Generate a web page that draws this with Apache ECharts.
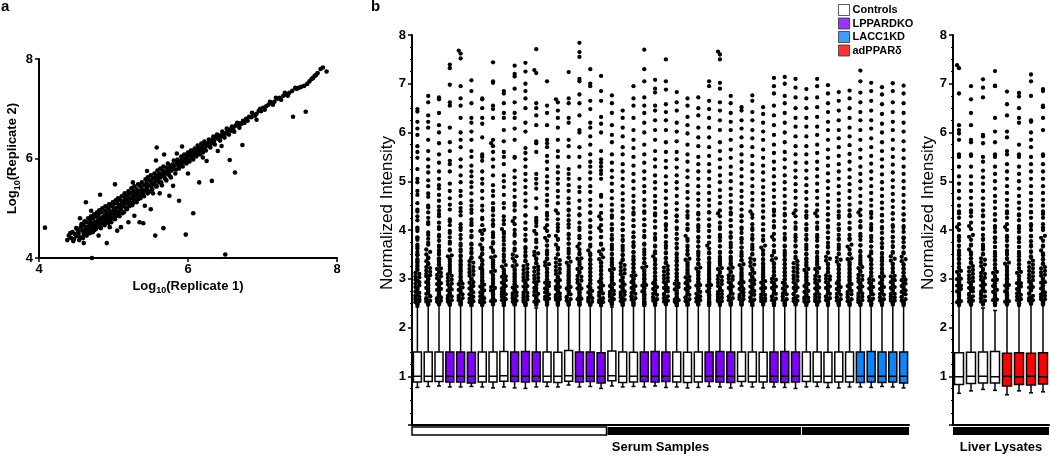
<!DOCTYPE html>
<html>
<head>
<meta charset="utf-8">
<script src="https://cdn.jsdelivr.net/npm/echarts@6/dist/echarts.min.js"></script>
<style>
html,body{margin:0;padding:0;background:#fff;}
#main{width:1050px;height:459px;}
</style>
</head>
<body>
<div id="main"></div>
<script>
// panel a: replicate 1 vs replicate 2 (log10)
var replicatePoints = [
[4.38,4.36],[4.40,4.45],[4.43,4.40],[4.45,4.52],[4.47,4.38],[4.48,4.48],[4.50,4.44],[4.52,4.56],[4.53,4.50],[4.55,4.42],[4.56,4.62],[4.58,4.55],[4.60,4.48],[4.60,4.66],[4.62,4.58],[4.63,4.52],[4.64,4.72],[4.65,4.62],[4.67,4.55],[4.68,4.68],[4.69,4.76],[4.70,4.60],[4.71,4.70],[4.72,4.64],[4.73,4.80],[4.74,4.56],[4.75,4.72],[4.76,4.66],[4.77,4.84],[4.78,4.62],[4.79,4.76],[4.80,4.70],[4.80,4.88],
[4.81,4.80],[4.82,4.66],[4.83,4.74],[4.84,4.92],[4.85,4.82],[4.86,4.70],[4.87,4.78],[4.88,4.86],[4.89,4.95],[4.90,4.74],[4.90,4.84],[4.91,4.90],[4.92,4.80],[4.93,5.00],[4.94,4.86],[4.95,4.76],[4.95,4.94],[4.96,4.84],[4.97,5.04],[4.98,4.90],[4.99,4.80],[5.00,4.96],[5.00,5.08],[5.01,4.88],[5.02,5.00],[5.03,4.84],[5.04,4.94],[5.05,5.10],[5.06,5.02],[5.07,4.92],[5.08,5.06],[5.09,5.16],[5.10,4.98],[5.11,5.08],[5.12,4.90],[5.13,5.14],[5.14,5.04],[5.15,5.22],[5.16,5.10],[5.17,5.00],[5.18,5.16],[5.19,5.26],[5.20,5.08],[5.21,5.18],[5.22,5.12],[5.23,5.30],[5.24,5.20],[5.25,5.06],[5.26,5.24],[5.27,5.34],[5.28,5.16],[5.29,5.28],[5.30,5.22],
[5.31,5.38],[5.32,5.30],[5.33,5.18],[5.35,5.34],[5.36,5.44],[5.37,5.26],[5.38,5.38],[5.40,5.30],[5.41,5.46],[5.42,5.36],[5.44,5.50],[5.45,5.42],[5.46,5.30],[5.47,5.46],[5.48,5.56],[5.50,5.44],[5.51,5.52],[5.52,5.38],[5.53,5.60],[5.55,5.50],[5.56,5.62],[5.57,5.56],[5.58,5.44],[5.59,5.66],[5.60,5.58],[5.62,5.70],[5.63,5.62],[5.64,5.52],[5.65,5.68],[5.66,5.76],[5.68,5.66],[5.69,5.60],[5.70,5.74],[5.71,5.82],[5.72,5.70],[5.74,5.78],[5.75,5.66],[5.76,5.84],[5.78,5.76],[5.79,5.88],
[5.80,5.80],[5.82,5.86],[5.84,5.78],[5.85,5.92],[5.87,5.86],[5.89,5.94],[5.90,5.88],[5.92,5.98],[5.94,5.92],[5.96,6.00],[5.97,5.95],[5.99,6.06],[6.01,6.00],[6.03,6.08],[6.05,6.04],[6.06,6.12],[6.08,6.08],[6.10,6.14],[6.12,6.10],[6.14,6.20],[6.15,6.15],[6.17,6.22],[6.19,6.18],[6.21,6.26],[6.23,6.22],[6.25,6.30],[6.27,6.26],[6.29,6.34],[6.31,6.30],[6.33,6.38],[6.35,6.35],[6.37,6.42],[6.40,6.40],[6.42,6.46],[6.45,6.44],[6.47,6.50],[6.50,6.50],
[6.53,6.55],[6.56,6.58],[6.58,6.56],[6.61,6.62],[6.64,6.66],[6.67,6.68],[6.70,6.71],[6.72,6.70],[6.74,6.76],[6.78,6.80],[6.82,6.84],[6.85,6.83],[6.88,6.88],[6.92,6.90],[6.95,6.96],[6.98,6.95],[7.01,7.02],[7.05,7.05],[7.08,7.08],[7.12,7.12],[7.16,7.14],[7.20,7.20],[7.23,7.22],[7.25,7.18],[7.28,7.26],[7.32,7.28],[7.36,7.32],[7.40,7.36],[7.46,7.40],[7.52,7.44],[7.56,7.46],[7.60,7.50],[7.63,7.55],[7.66,7.60],[7.70,7.66],[7.74,7.72],[7.78,7.80],[7.81,7.83],[7.86,7.75],
[4.42,4.50],[4.46,4.34],[4.50,4.60],[4.54,4.36],[4.57,4.68],[4.59,4.40],[4.61,4.74],[4.64,4.45],[4.66,4.80],[4.68,4.50],[4.70,4.84],[4.72,4.52],[4.74,4.88],[4.76,4.58],[4.78,4.92],[4.79,4.68],[4.81,4.96],[4.83,4.60],[4.85,5.00],[4.86,4.76],[4.88,4.66],[4.89,5.04],[4.91,4.78],[4.93,4.70],[4.94,5.08],[4.96,4.90],[4.97,4.72],[4.99,5.12],
[5.01,4.98],[5.02,4.78],[5.03,5.16],[5.05,4.88],[5.06,5.20],[5.08,4.84],[5.09,5.00],[5.11,5.24],[5.12,5.12],[5.14,4.92],[5.15,5.30],[5.17,5.18],[5.18,4.98],[5.20,5.34],[5.21,5.04],[5.23,5.20],[5.24,5.40],[5.26,5.10],[5.28,5.44],[5.30,5.30],[5.31,5.12],[5.33,5.48],[5.34,5.26],[5.36,5.20],[5.38,5.52],[5.39,5.32],[5.41,5.24],[5.43,5.58],[5.45,5.36],[5.46,5.62],[5.48,5.34],[5.50,5.66],[5.52,5.48],[5.53,5.30],[5.55,5.70],[5.57,5.44],[5.59,5.76],[5.61,5.52],[5.63,5.80],[5.65,5.46],[5.67,5.84],[5.69,5.70],[5.71,5.56],[5.73,5.90],[5.75,5.74],[5.77,5.62],
[5.81,5.96],[5.83,5.70],[5.86,5.98],[5.88,5.80],[5.91,6.04],[5.93,5.84],[5.95,6.08],[5.98,5.90],[6.00,6.12],[6.02,5.94],[6.04,6.16],[6.07,5.98],[6.09,6.20],[6.11,6.04],[6.13,6.26],[6.16,6.08],[6.18,6.30],[6.20,6.12],[6.22,6.34],[6.24,6.16],[6.28,6.38],[6.30,6.22],[6.34,6.44],[6.36,6.28],[6.39,6.48],[6.43,6.36],[6.46,6.54],[6.49,6.42],[6.52,6.60],[6.55,6.48],[6.59,6.64],[6.62,6.54],[6.66,6.72],[6.69,6.62],[6.76,6.72],[6.80,6.76],[6.86,6.92],[6.90,6.86],[6.97,7.00],[7.03,6.98],[7.10,7.14],[7.14,7.08],[7.18,7.22],[7.30,7.32],[7.34,7.26],[7.44,7.42],[7.49,7.42],[7.68,7.62],[7.72,7.68],
[4.08,4.61],[4.71,4.00],[6.50,4.07],[4.91,4.30],[4.63,5.12],[4.82,5.27],[5.02,5.48],[5.26,5.52],[5.58,6.22],[5.57,5.96],[5.45,5.75],[5.68,6.08],[5.85,6.10],[5.92,6.24],[5.67,4.60],[5.56,4.45],[5.97,4.47],[6.07,4.90],[6.15,5.52],[6.32,5.55],[6.63,5.72],[6.56,5.97],[6.73,6.27],[6.92,6.78],[7.41,6.84],[7.58,6.94],[5.35,4.72],[5.50,4.98],[5.42,5.05],[5.75,5.25],[5.88,5.15],[5.62,5.30],[5.20,4.72],[5.05,4.55],[4.95,4.62],[5.28,4.85],[5.80,5.45],[6.00,5.70],[6.25,5.95],[6.40,6.15],[4.55,4.80],[4.70,4.95],[4.60,4.30],[4.80,4.45],[5.10,4.62],[5.40,4.70],[6.20,6.02],[6.45,6.25]
];

// panel b: 46 serum samples, group 0 controls, 1 LPPARDKO, 2 LACC1KD
var serumGroup = [0,0,0,1,1,1,0,0,0,1,1,1,0,0,0,1,1,1,0,0,0,1,1,1,0,0,0,1,1,1,0,0,0,1,1,1,0,0,0,0,0,2,2,2,2,2];
var serumLow  = [0.77,0.79,0.80,0.78,0.78,0.79,0.78,0.76,0.78,0.76,0.75,0.78,0.79,0.78,0.82,0.78,0.79,0.75,0.80,0.78,0.79,0.78,0.80,0.77,0.78,0.76,0.77,0.79,0.78,0.76,0.80,0.78,0.76,0.78,0.77,0.75,0.78,0.79,0.77,0.76,0.78,0.78,0.77,0.79,0.78,0.76];
var serumQ1   = [0.88,0.89,0.89,0.88,0.88,0.86,0.88,0.88,0.90,0.89,0.88,0.89,0.88,0.87,0.90,0.88,0.89,0.86,0.91,0.87,0.88,0.89,0.88,0.89,0.88,0.87,0.88,0.89,0.88,0.87,0.89,0.88,0.88,0.88,0.87,0.88,0.89,0.88,0.87,0.88,0.88,0.87,0.88,0.87,0.88,0.86];
var serumMed  = [1.00,1.00,1.00,1.00,1.00,1.00,1.00,1.00,1.01,1.00,1.00,1.00,1.00,1.00,1.01,1.00,1.00,1.00,1.01,1.00,1.00,1.00,1.00,1.00,1.00,1.00,1.00,1.00,1.00,1.00,1.00,1.00,1.00,1.00,1.00,1.00,1.00,1.00,1.00,1.00,1.00,1.00,1.00,1.00,1.00,1.00];
var serumQ3   = [1.50,1.50,1.50,1.50,1.50,1.49,1.50,1.50,1.51,1.50,1.51,1.50,1.50,1.49,1.53,1.50,1.50,1.48,1.52,1.50,1.49,1.50,1.51,1.50,1.50,1.49,1.50,1.50,1.51,1.50,1.50,1.50,1.49,1.50,1.51,1.50,1.50,1.50,1.49,1.50,1.50,1.50,1.51,1.50,1.50,1.50];
var serumHigh = [2.42,2.45,2.46,2.46,2.45,2.44,2.45,2.46,2.45,2.45,2.44,2.40,2.45,2.46,2.46,2.45,2.45,2.44,2.42,2.45,2.45,2.44,2.45,2.46,2.44,2.45,2.45,2.44,2.45,2.46,2.45,2.44,2.45,2.44,2.45,2.45,2.44,2.45,2.45,2.44,2.45,2.45,2.44,2.45,2.45,2.44];
var serumOutliers = [
[6.48,6.43,6.22,6.08,5.95,5.72,5.6,5.48,5.25,5.05,4.98,4.8,4.72,4.55,4.42,4.38,4.2,4.05,3.98,3.85,3.8,3.7,3.62,3.55,3.48,3.4,3.33,3.28,3.2,3.12,3.05,2.98,2.93,2.86,2.8,2.74,2.69,2.63,2.58,2.52,2.48],
[6.75,6.62,6.35,6.22,6.1,5.85,5.62,5.45,5.3,5.18,5.02,4.9,4.75,4.68,4.5,4.36,4.25,4.12,3.95,3.82,3.74,3.6,3.5,3.44,3.36,3.3,3.24,3.17,3.1,3.05,2.99,2.92,2.87,2.81,2.75,2.7,2.64,2.58,2.53,2.47],
[6.72,6.68,6.4,6.15,6.0,5.78,5.55,5.38,5.2,5.05,4.92,4.85,4.72,4.6,4.48,4.4,4.28,4.15,4.02,3.9,3.78,3.65,3.58,3.5,3.42,3.35,3.28,3.21,3.14,3.08,3.01,2.95,2.89,2.83,2.77,2.71,2.66,2.6,2.55,2.49],
[7.39,7.32,6.98,6.62,6.55,6.1,5.8,5.62,5.42,5.35,5.2,4.95,4.8,4.65,4.52,4.42,4.22,4.1,3.98,3.85,3.72,3.6,3.48,3.4,3.3,3.2,3.12,3.06,2.98,2.9,2.84,2.78,2.7,2.64,2.57,2.5,2.47],
[7.68,7.62,7.52,6.95,6.7,6.55,6.3,6.0,5.85,5.7,5.45,5.3,5.12,4.98,4.8,4.7,4.55,4.45,4.3,4.12,4.0,3.9,3.72,3.6,3.48,3.38,3.3,3.22,3.15,3.05,2.97,2.9,2.82,2.75,2.68,2.6,2.55,2.5,2.47],
[7.07,6.85,6.6,6.3,6.2,6.02,5.85,5.62,5.5,5.32,5.2,5.1,4.98,4.88,4.75,4.6,4.5,4.35,4.22,4.1,3.98,3.85,3.72,3.62,3.52,3.44,3.36,3.28,3.2,3.13,3.06,2.99,2.92,2.85,2.78,2.72,2.65,2.58,2.52,2.46],
[6.7,6.68,6.5,6.3,6.18,5.9,5.55,5.5,5.42,5.2,5.05,4.95,4.8,4.65,4.5,4.4,4.25,4.1,4.0,3.92,3.82,3.7,3.6,3.52,3.44,3.37,3.3,3.22,3.16,3.09,3.02,2.95,2.88,2.82,2.76,2.7,2.64,2.58,2.52,2.46],
[7.44,7.05,7.02,6.55,6.48,6.3,5.85,5.78,5.72,5.6,5.45,5.3,5.12,4.92,4.8,4.7,4.55,4.45,4.3,4.2,4.08,3.95,3.85,3.75,3.64,3.55,3.46,3.38,3.3,3.22,3.14,3.06,2.98,2.9,2.83,2.76,2.68,2.61,2.54,2.48],
[6.85,6.8,6.6,6.4,6.3,6.05,5.82,5.6,5.5,5.35,5.12,5.0,4.88,4.72,4.55,4.45,4.28,4.12,4.02,3.92,3.85,3.7,3.58,3.45,3.35,3.25,3.15,3.05,2.98,2.92,2.86,2.8,2.74,2.68,2.62,2.56,2.5,2.46],
[7.37,7.2,7.15,6.9,6.62,6.4,6.3,6.08,5.85,5.5,5.48,5.22,5.08,4.95,4.82,4.68,4.55,4.4,4.25,4.12,4.0,3.88,3.75,3.62,3.5,3.42,3.35,3.28,3.2,3.12,3.05,2.98,2.9,2.84,2.78,2.72,2.65,2.59,2.53,2.47],
[7.43,7.25,7.0,6.85,6.7,6.5,6.2,6.02,5.68,5.58,5.45,5.3,5.15,5.02,4.88,4.75,4.6,4.48,4.3,4.15,4.02,3.9,3.78,3.65,3.55,3.45,3.37,3.29,3.21,3.13,3.06,2.99,2.92,2.85,2.78,2.71,2.64,2.57,2.5,2.46],
[7.71,7.28,7.22,6.6,6.5,6.35,6.15,5.82,5.78,5.6,5.15,5.05,4.95,4.85,4.65,4.45,4.2,4.15,4.08,3.92,3.75,3.55,3.48,3.4,3.32,3.25,3.18,3.1,3.02,2.95,2.88,2.8,2.73,2.66,2.6,2.53,2.47],
[7.05,6.55,6.4,6.15,5.85,5.78,5.7,5.52,5.4,5.25,5.1,4.98,4.85,4.72,4.6,4.5,4.35,4.22,4.1,3.98,3.88,3.78,3.68,3.58,3.5,3.42,3.34,3.27,3.2,3.13,3.06,2.99,2.92,2.85,2.78,2.72,2.65,2.58,2.52,2.47],
[6.68,6.62,6.45,6.3,6.1,5.85,5.62,5.5,5.3,5.18,5.05,4.95,4.8,4.68,4.55,4.4,4.22,4.12,3.98,3.88,3.8,3.7,3.6,3.5,3.42,3.33,3.25,3.17,3.1,3.03,2.96,2.9,2.83,2.76,2.7,2.63,2.57,2.51,2.46],
[7.24,6.7,6.6,6.3,6.2,5.85,5.72,5.5,5.25,5.15,5.05,4.92,4.8,4.65,4.55,4.42,4.3,4.2,4.05,3.92,3.82,3.72,3.62,3.52,3.43,3.35,3.27,3.19,3.11,3.04,2.97,2.9,2.83,2.76,2.69,2.62,2.55,2.49],
[7.84,7.65,7.55,7.1,7.05,6.78,6.6,6.35,6.05,6.0,5.7,5.5,5.3,5.05,4.88,4.78,4.6,4.45,4.3,4.15,4.0,3.88,3.72,3.6,3.5,3.42,3.35,3.28,3.2,3.12,3.04,2.96,2.88,2.8,2.72,2.65,2.58,2.52,2.47],
[7.3,7.0,6.95,6.65,6.48,6.2,6.1,5.92,5.75,5.55,5.4,5.3,5.18,5.05,4.9,4.78,4.62,4.5,4.35,4.2,4.08,3.95,3.82,3.7,3.58,3.48,3.38,3.3,3.22,3.14,3.06,2.98,2.9,2.82,2.75,2.68,2.6,2.53,2.47],
[7.16,6.85,6.65,6.32,6.18,6.0,5.62,5.45,5.38,5.3,5.22,5.15,5.05,4.72,4.68,4.5,4.35,4.22,4.1,3.98,3.85,3.72,3.6,3.5,3.4,3.32,3.24,3.16,3.08,3.0,2.93,2.86,2.79,2.72,2.65,2.58,2.52,2.46],
[6.76,6.6,6.4,6.15,5.95,5.8,5.55,5.38,5.22,5.08,4.95,4.8,4.65,4.52,4.4,4.25,4.12,4.0,3.9,3.8,3.7,3.6,3.5,3.42,3.34,3.26,3.18,3.1,3.03,2.96,2.89,2.82,2.75,2.68,2.61,2.55,2.49],
[6.45,6.3,6.1,5.92,5.7,5.55,5.35,5.2,5.05,4.9,4.75,4.62,4.5,4.38,4.25,4.12,4.0,3.88,3.78,3.68,3.58,3.48,3.4,3.32,3.24,3.16,3.09,3.02,2.95,2.88,2.81,2.74,2.67,2.6,2.54,2.48],
[6.95,6.7,6.55,6.3,6.05,5.85,5.68,5.5,5.32,5.15,5.0,4.85,4.7,4.58,4.45,4.32,4.2,4.08,3.95,3.85,3.75,3.65,3.55,3.46,3.38,3.3,3.22,3.14,3.06,2.99,2.92,2.85,2.78,2.71,2.64,2.57,2.51,2.46],
[7.7,7.3,7.05,6.72,6.55,6.4,6.2,6.0,5.75,5.55,5.38,5.2,5.05,4.9,4.78,4.62,4.5,4.35,4.22,4.1,3.98,3.85,3.72,3.6,3.5,3.41,3.33,3.25,3.17,3.09,3.01,2.94,2.87,2.8,2.73,2.66,2.59,2.52,2.47],
[7.08,6.9,6.82,6.55,6.45,6.25,6.05,5.85,5.62,5.45,5.3,5.12,4.98,4.85,4.7,4.58,4.45,4.3,4.18,4.05,3.92,3.8,3.68,3.56,3.46,3.37,3.29,3.21,3.13,3.05,2.97,2.9,2.83,2.76,2.69,2.62,2.55,2.49],
[7.5,7.05,6.88,6.58,6.42,6.25,6.05,5.8,5.6,5.42,5.28,5.1,4.95,4.8,4.65,4.52,4.38,4.25,4.12,4.0,3.88,3.75,3.63,3.52,3.43,3.34,3.26,3.18,3.1,3.02,2.95,2.88,2.81,2.74,2.67,2.6,2.53,2.47],
[6.83,6.62,6.45,6.2,6.02,5.82,5.6,5.45,5.28,5.12,4.98,4.85,4.7,4.55,4.42,4.3,4.18,4.05,3.92,3.82,3.72,3.62,3.52,3.43,3.35,3.27,3.19,3.11,3.04,2.97,2.9,2.83,2.76,2.69,2.62,2.56,2.5,2.46],
[6.7,6.55,6.32,6.15,5.98,5.75,5.55,5.4,5.22,5.08,4.92,4.78,4.65,4.5,4.38,4.25,4.12,4.0,3.88,3.78,3.68,3.58,3.49,3.41,3.33,3.25,3.17,3.1,3.03,2.96,2.89,2.82,2.75,2.68,2.61,2.54,2.48],
[6.72,6.5,6.35,6.1,5.9,5.72,5.5,5.35,5.2,5.05,4.9,4.75,4.62,4.5,4.35,4.22,4.1,3.98,3.86,3.76,3.66,3.56,3.47,3.39,3.31,3.23,3.15,3.08,3.01,2.94,2.87,2.8,2.73,2.66,2.59,2.53,2.47],
[7.05,6.95,6.65,6.48,6.3,6.1,5.9,5.7,5.52,5.35,5.2,5.05,4.9,4.76,4.62,4.5,4.36,4.22,4.1,3.98,3.86,3.74,3.62,3.52,3.43,3.34,3.26,3.18,3.1,3.02,2.94,2.87,2.8,2.73,2.66,2.59,2.52,2.47],
[7.66,7.6,7.5,7.02,6.9,6.62,6.45,6.25,6.05,5.8,5.62,5.45,5.28,5.12,4.98,4.82,4.68,4.55,4.4,4.28,4.15,4.02,3.9,3.78,3.66,3.55,3.45,3.36,3.28,3.2,3.12,3.04,2.96,2.89,2.82,2.75,2.68,2.61,2.54,2.48],
[6.75,6.6,6.4,6.22,6.05,5.85,5.65,5.48,5.3,5.15,5.0,4.85,4.72,4.58,4.45,4.32,4.2,4.08,3.95,3.84,3.74,3.64,3.54,3.45,3.37,3.29,3.21,3.13,3.05,2.98,2.91,2.84,2.77,2.7,2.63,2.56,2.5,2.46],
[6.52,6.45,6.25,6.08,5.9,5.72,5.55,5.4,5.25,5.1,4.95,4.8,4.68,4.55,4.42,4.3,4.18,4.05,3.94,3.84,3.74,3.64,3.55,3.46,3.38,3.3,3.22,3.14,3.07,3.0,2.93,2.86,2.79,2.72,2.65,2.58,2.52,2.47],
[6.76,6.65,6.42,6.25,6.05,5.88,5.7,5.52,5.35,5.2,5.05,4.9,4.76,4.62,4.5,4.38,4.25,4.12,4.0,3.9,3.8,3.7,3.6,3.5,3.42,3.34,3.26,3.18,3.1,3.03,2.96,2.89,2.82,2.75,2.68,2.61,2.54,2.48],
[6.52,6.38,6.2,6.02,5.85,5.65,5.48,5.32,5.18,5.02,4.88,4.75,4.62,4.5,4.38,4.25,4.12,4.0,3.88,3.78,3.68,3.58,3.49,3.4,3.32,3.24,3.16,3.09,3.02,2.95,2.88,2.81,2.74,2.67,2.6,2.54,2.48],
[7.12,6.95,6.8,6.55,6.35,6.15,5.95,5.75,5.58,5.4,5.25,5.1,4.95,4.82,4.68,4.55,4.42,4.3,4.18,4.05,3.92,3.8,3.68,3.57,3.47,3.38,3.3,3.22,3.14,3.06,2.98,2.91,2.84,2.77,2.7,2.63,2.56,2.5,2.46],
[7.14,7.0,6.75,6.6,6.4,6.2,6.0,5.8,5.6,5.45,5.28,5.12,4.98,4.84,4.7,4.56,4.44,4.3,4.18,4.05,3.92,3.8,3.68,3.57,3.47,3.38,3.3,3.22,3.14,3.06,2.98,2.91,2.84,2.77,2.7,2.63,2.56,2.5,2.46],
[7.1,6.92,6.72,6.5,6.3,6.12,5.92,5.72,5.55,5.38,5.22,5.08,4.94,4.8,4.66,4.52,4.4,4.28,4.15,4.02,3.9,3.78,3.66,3.55,3.45,3.36,3.28,3.2,3.12,3.04,2.96,2.89,2.82,2.75,2.68,2.61,2.54,2.48],
[6.89,6.7,6.5,6.3,6.12,5.92,5.72,5.55,5.38,5.22,5.06,4.92,4.78,4.64,4.5,4.38,4.25,4.12,4.0,3.9,3.8,3.7,3.6,3.5,3.42,3.34,3.26,3.18,3.1,3.03,2.96,2.89,2.82,2.75,2.68,2.61,2.54,2.48],
[7.1,6.95,6.72,6.52,6.32,6.12,5.95,5.75,5.58,5.4,5.25,5.1,4.95,4.8,4.66,4.52,4.4,4.28,4.15,4.02,3.9,3.78,3.66,3.55,3.45,3.36,3.28,3.2,3.12,3.04,2.96,2.89,2.82,2.75,2.68,2.61,2.54,2.48],
[6.97,6.8,6.6,6.42,6.22,6.05,5.85,5.65,5.48,5.32,5.16,5.0,4.86,4.72,4.58,4.45,4.32,4.2,4.08,3.95,3.84,3.74,3.64,3.54,3.45,3.37,3.29,3.21,3.13,3.05,2.98,2.91,2.84,2.77,2.7,2.63,2.56,2.5,2.46],
[6.83,6.65,6.45,6.25,6.05,5.88,5.7,5.52,5.35,5.2,5.05,4.9,4.75,4.62,4.5,4.38,4.25,4.12,4.0,3.9,3.8,3.7,3.6,3.51,3.43,3.35,3.27,3.19,3.11,3.04,2.97,2.9,2.83,2.76,2.69,2.62,2.55,2.49],
[6.86,6.7,6.5,6.3,6.1,5.92,5.74,5.56,5.4,5.24,5.08,4.94,4.8,4.66,4.52,4.4,4.28,4.15,4.02,3.9,3.8,3.7,3.6,3.5,3.42,3.34,3.26,3.18,3.1,3.03,2.96,2.89,2.82,2.75,2.68,2.61,2.54,2.48],
[7.27,7.05,6.82,6.62,6.42,6.25,6.05,5.85,5.65,5.48,5.3,5.15,5.0,4.85,4.7,4.56,4.42,4.3,4.18,4.05,3.92,3.8,3.68,3.57,3.47,3.38,3.3,3.22,3.14,3.06,2.98,2.91,2.84,2.77,2.7,2.63,2.56,2.5,2.46],
[7.02,6.85,6.65,6.45,6.25,6.08,5.88,5.7,5.52,5.36,5.2,5.05,4.9,4.76,4.62,4.5,4.37,4.25,4.12,4.0,3.88,3.77,3.66,3.56,3.46,3.37,3.29,3.21,3.13,3.05,2.97,2.9,2.83,2.76,2.69,2.62,2.55,2.49],
[6.93,6.78,6.58,6.38,6.18,6.0,5.8,5.62,5.45,5.3,5.14,4.98,4.84,4.7,4.56,4.44,4.31,4.18,4.06,3.94,3.83,3.73,3.63,3.53,3.44,3.36,3.28,3.2,3.12,3.04,2.97,2.9,2.83,2.76,2.69,2.62,2.55,2.49],
[7.01,6.85,6.62,6.42,6.22,6.05,5.85,5.66,5.5,5.34,5.18,5.02,4.88,4.74,4.6,4.47,4.34,4.22,4.1,3.97,3.86,3.76,3.65,3.55,3.46,3.37,3.29,3.21,3.13,3.05,2.97,2.9,2.83,2.76,2.69,2.62,2.55,2.49],
[6.96,6.8,6.6,6.4,6.2,6.02,5.82,5.64,5.47,5.3,5.15,5.0,4.86,4.72,4.58,4.45,4.32,4.2,4.08,3.96,3.85,3.75,3.64,3.54,3.45,3.36,3.28,3.2,3.12,3.04,2.97,2.9,2.83,2.76,2.69,2.62,2.55,2.49]
];
// crowded lower band of each serum column (values just above the whisker)
var serumDense = [
[2.46,2.5,2.54,2.57,2.61,2.66,2.71,2.77,2.83,2.9,2.96,3.03,3.1,3.18,3.25,3.36,3.5,3.66,3.84,4.02,4.28],
[2.48,2.51,2.55,2.6,2.64,2.69,2.75,2.8,2.87,2.93,3.0,3.07,3.14,3.22,3.32,3.42,3.55,3.7,3.9,4.16,4.46],
[2.47,2.5,2.53,2.58,2.62,2.68,2.73,2.79,2.85,2.91,2.98,3.05,3.12,3.2,3.3,3.4,3.53,3.68,3.86,4.06,4.33],
[2.46,2.49,2.53,2.56,2.6,2.65,2.7,2.76,2.82,2.88,2.95,3.02,3.09,3.16,3.25,3.35,3.46,3.58,3.76,3.94,4.18],
[2.48,2.52,2.56,2.61,2.65,2.71,2.77,2.83,2.89,2.95,3.02,3.1,3.18,3.26,3.35,3.45,3.56,3.68,3.82,4.05,4.38],
[2.47,2.5,2.54,2.59,2.63,2.68,2.74,2.8,2.86,2.93,3.0,3.08,3.16,3.24,3.33,3.42,3.55,3.7,3.88,4.15,4.42],
[2.46,2.49,2.52,2.56,2.6,2.66,2.72,2.78,2.84,2.9,2.97,3.04,3.12,3.2,3.28,3.38,3.5,3.64,3.8,3.98,4.22],
[2.47,2.51,2.55,2.6,2.65,2.7,2.75,2.81,2.87,2.94,3.01,3.08,3.16,3.25,3.34,3.44,3.58,3.72,3.9,4.12,4.4],
[2.46,2.5,2.54,2.58,2.63,2.68,2.73,2.79,2.85,2.91,2.97,3.04,3.11,3.19,3.28,3.38,3.5,3.62,3.78,3.96,4.2],
[2.48,2.51,2.55,2.6,2.65,2.7,2.76,2.82,2.88,2.95,3.02,3.09,3.17,3.26,3.36,3.46,3.58,3.72,3.92,4.18,4.5],
[2.47,2.5,2.53,2.57,2.62,2.67,2.72,2.78,2.84,2.9,2.96,3.03,3.1,3.18,3.26,3.36,3.48,3.62,3.8,4.02,4.3],
[2.46,2.5,2.54,2.59,2.64,2.69,2.75,2.81,2.87,2.93,3.0,3.07,3.15,3.23,3.32,3.42,3.52,3.64,3.8,3.98,4.25],
[2.48,2.51,2.55,2.59,2.63,2.68,2.74,2.8,2.86,2.92,2.99,3.06,3.13,3.21,3.3,3.4,3.54,3.68,3.84,4.04,4.3],
[2.47,2.5,2.54,2.58,2.62,2.67,2.73,2.79,2.84,2.9,2.97,3.04,3.12,3.2,3.29,3.38,3.5,3.64,3.82,4.05,4.34],
[2.46,2.49,2.53,2.58,2.63,2.68,2.74,2.8,2.86,2.93,3.0,3.07,3.15,3.24,3.33,3.44,3.57,3.72,3.9,4.12,4.4],
[2.47,2.51,2.55,2.59,2.64,2.69,2.74,2.8,2.86,2.92,2.99,3.06,3.14,3.22,3.31,3.41,3.53,3.66,3.83,4.05,4.32],
[2.46,2.5,2.53,2.57,2.61,2.66,2.72,2.78,2.84,2.9,2.97,3.05,3.13,3.21,3.3,3.4,3.52,3.66,3.84,4.06,4.36],
[2.48,2.52,2.56,2.6,2.65,2.7,2.76,2.82,2.88,2.94,3.01,3.09,3.17,3.25,3.34,3.44,3.56,3.7,3.86,4.04,4.28],
[2.47,2.5,2.54,2.58,2.63,2.68,2.73,2.79,2.85,2.91,2.98,3.05,3.12,3.2,3.29,3.39,3.51,3.65,3.83,4.03,4.3],
[2.46,2.49,2.53,2.57,2.62,2.67,2.72,2.78,2.84,2.9,2.96,3.03,3.11,3.19,3.28,3.38,3.5,3.63,3.8,4.0,4.24],
[2.48,2.51,2.55,2.6,2.64,2.69,2.75,2.81,2.87,2.93,3.0,3.07,3.14,3.22,3.31,3.41,3.54,3.68,3.86,4.08,4.36],
[2.47,2.5,2.54,2.59,2.63,2.68,2.74,2.8,2.86,2.92,2.99,3.06,3.14,3.23,3.32,3.42,3.55,3.7,3.88,4.1,4.38],
[2.46,2.5,2.54,2.58,2.62,2.67,2.73,2.79,2.85,2.91,2.98,3.05,3.13,3.21,3.3,3.4,3.52,3.66,3.84,4.06,4.34],
[2.48,2.51,2.55,2.59,2.64,2.69,2.75,2.81,2.87,2.93,3.0,3.07,3.15,3.23,3.32,3.42,3.54,3.68,3.86,4.08,4.36],
[2.47,2.5,2.53,2.57,2.62,2.67,2.72,2.78,2.84,2.9,2.97,3.04,3.11,3.19,3.28,3.38,3.5,3.64,3.82,4.02,4.28],
[2.46,2.49,2.53,2.58,2.62,2.67,2.73,2.79,2.85,2.91,2.97,3.04,3.12,3.2,3.29,3.39,3.51,3.65,3.82,4.03,4.3],
[2.48,2.52,2.56,2.6,2.64,2.69,2.75,2.8,2.86,2.92,2.99,3.06,3.13,3.21,3.3,3.4,3.52,3.66,3.84,4.05,4.32],
[2.47,2.5,2.54,2.59,2.63,2.68,2.74,2.8,2.86,2.92,2.99,3.06,3.14,3.22,3.31,3.41,3.54,3.68,3.86,4.08,4.36],
[2.46,2.5,2.54,2.58,2.63,2.68,2.73,2.79,2.85,2.92,2.99,3.06,3.14,3.22,3.31,3.41,3.53,3.67,3.85,4.06,4.34],
[2.48,2.51,2.55,2.6,2.64,2.69,2.75,2.81,2.87,2.93,3.0,3.07,3.15,3.23,3.32,3.42,3.55,3.69,3.87,4.08,4.36],
[2.47,2.5,2.54,2.58,2.62,2.67,2.73,2.79,2.85,2.91,2.97,3.04,3.11,3.19,3.28,3.38,3.5,3.64,3.81,4.02,4.28],
[2.46,2.49,2.53,2.57,2.62,2.67,2.72,2.78,2.84,2.9,2.97,3.04,3.12,3.2,3.29,3.39,3.51,3.65,3.83,4.04,4.32],
[2.48,2.51,2.55,2.59,2.63,2.68,2.74,2.8,2.86,2.92,2.98,3.05,3.12,3.2,3.29,3.39,3.51,3.64,3.8,4.0,4.26],
[2.47,2.5,2.54,2.59,2.64,2.69,2.75,2.81,2.87,2.93,3.0,3.07,3.15,3.23,3.32,3.42,3.54,3.68,3.86,4.08,4.38],
[2.46,2.5,2.54,2.58,2.63,2.68,2.74,2.8,2.86,2.92,2.99,3.06,3.13,3.21,3.3,3.4,3.52,3.66,3.84,4.05,4.33],
[2.48,2.51,2.55,2.59,2.64,2.69,2.75,2.81,2.87,2.93,3.0,3.07,3.15,3.23,3.32,3.42,3.54,3.68,3.85,4.06,4.34],
[2.47,2.5,2.53,2.58,2.62,2.67,2.73,2.79,2.85,2.91,2.98,3.05,3.12,3.2,3.29,3.39,3.51,3.65,3.82,4.03,4.3],
[2.46,2.5,2.54,2.58,2.63,2.68,2.74,2.8,2.86,2.92,2.99,3.06,3.14,3.22,3.31,3.41,3.53,3.67,3.85,4.06,4.34],
[2.48,2.51,2.55,2.6,2.64,2.69,2.75,2.81,2.87,2.93,3.0,3.07,3.14,3.22,3.31,3.41,3.53,3.67,3.84,4.05,4.32],
[2.47,2.5,2.54,2.58,2.62,2.67,2.73,2.79,2.85,2.91,2.97,3.04,3.12,3.2,3.29,3.39,3.51,3.65,3.82,4.03,4.3],
[2.46,2.49,2.53,2.58,2.63,2.68,2.73,2.79,2.85,2.91,2.98,3.05,3.13,3.21,3.3,3.4,3.52,3.66,3.83,4.04,4.31],
[2.48,2.52,2.56,2.6,2.65,2.7,2.76,2.82,2.88,2.94,3.01,3.08,3.16,3.24,3.33,3.43,3.55,3.69,3.87,4.08,4.36],
[2.47,2.5,2.54,2.59,2.63,2.68,2.74,2.8,2.86,2.92,2.99,3.06,3.13,3.21,3.3,3.4,3.52,3.66,3.84,4.05,4.33],
[2.46,2.5,2.54,2.58,2.62,2.67,2.73,2.79,2.85,2.91,2.98,3.05,3.12,3.2,3.29,3.39,3.51,3.65,3.82,4.03,4.3],
[2.48,2.51,2.55,2.59,2.64,2.69,2.75,2.81,2.87,2.93,2.99,3.06,3.14,3.22,3.31,3.41,3.53,3.67,3.85,4.06,4.34],
[2.47,2.5,2.54,2.58,2.63,2.68,2.73,2.79,2.85,2.91,2.98,3.05,3.13,3.21,3.3,3.4,3.52,3.66,3.83,4.04,4.32]
];
// sample blocks under the serum axis (first, last box index)
var serumBlocks = [[0,17],[18,35],[36,45]];

// liver lysates, group 0 controls, 3 adPPARd
var liverGroup = [0,0,0,0,3,3,3,3];
var liverLow  = [0.65,0.70,0.73,0.71,0.62,0.70,0.66,0.68];
var liverQ1   = [0.83,0.85,0.86,0.86,0.80,0.83,0.82,0.84];
var liverMed  = [0.99,1.00,1.00,0.99,1.00,0.99,1.00,0.99];
var liverQ3   = [1.48,1.49,1.50,1.51,1.47,1.48,1.47,1.48];
var liverHigh = [2.45,2.45,2.40,2.35,2.50,2.50,2.50,2.50];
var liverOutliers = [
[7.38,7.32,6.8,6.15,6.05,5.98,5.85,5.55,5.5,5.3,5.1,4.95,4.8,4.65,4.5,4.38,4.25,4.12,4.0,3.88,3.78,3.68,3.58,3.48,3.4,3.32,3.24,3.16,3.08,3.0,2.93,2.86,2.79,2.72,2.65,2.58,2.52,2.47],
[6.95,6.68,6.4,6.15,5.85,5.8,5.55,5.52,5.3,5.1,4.95,4.8,4.66,4.52,4.4,4.28,4.15,4.02,3.9,3.8,3.7,3.6,3.5,3.42,3.34,3.26,3.18,3.1,3.02,2.95,2.88,2.81,2.74,2.67,2.6,2.53,2.47],
[7.09,6.92,6.72,5.95,5.92,5.78,5.5,5.4,5.22,5.08,4.95,4.8,4.65,4.52,4.4,4.28,4.15,4.02,3.9,3.8,3.7,3.6,3.5,3.42,3.34,3.26,3.18,3.1,3.02,2.95,2.88,2.81,2.74,2.67,2.6,2.53,2.47],
[7.26,6.96,6.95,6.3,6.02,5.8,5.55,5.5,5.3,5.15,5.0,4.85,4.7,4.58,4.45,4.32,4.2,4.08,3.96,3.85,3.75,3.65,3.55,3.46,3.38,3.3,3.22,3.14,3.06,2.98,2.91,2.84,2.77,2.7,2.63,2.56,2.5,2.46],
[6.84,6.58,6.35,6.02,5.9,5.62,5.55,5.35,5.2,5.05,4.9,4.76,4.62,4.5,4.38,4.25,4.12,4.0,3.88,3.78,3.68,3.58,3.49,3.41,3.33,3.25,3.17,3.09,3.01,2.94,2.87,2.8,2.73,2.66,2.59,2.53,2.47],
[6.81,6.74,6.5,6.3,6.2,5.75,5.55,5.5,5.3,5.15,5.0,4.85,4.7,4.56,4.44,4.32,4.2,4.08,3.96,3.85,3.75,3.65,3.55,3.46,3.38,3.3,3.22,3.14,3.06,2.98,2.91,2.84,2.77,2.7,2.63,2.56,2.5,2.46],
[7.19,7.05,6.75,6.25,6.22,6.0,5.85,5.7,5.5,5.35,5.2,5.05,4.9,4.76,4.62,4.5,4.37,4.25,4.12,4.0,3.88,3.77,3.66,3.56,3.46,3.37,3.29,3.21,3.13,3.05,2.97,2.9,2.83,2.76,2.69,2.62,2.55,2.49],
[6.89,6.85,6.55,6.52,6.3,6.05,5.55,5.52,5.35,5.2,5.05,4.9,4.76,4.62,4.5,4.38,4.25,4.12,4.0,3.88,3.78,3.68,3.58,3.48,3.4,3.32,3.24,3.16,3.08,3.0,2.93,2.86,2.79,2.72,2.65,2.58,2.52,2.47]
];
var liverDense = [
[2.46,2.5,2.54,2.58,2.63,2.68,2.74,2.8,2.86,2.92,2.99,3.06,3.14,3.22,3.31,3.41,3.53,3.67,3.85,4.06,4.34],
[2.47,2.51,2.55,2.59,2.64,2.69,2.75,2.81,2.87,2.93,3.0,3.07,3.15,3.23,3.32,3.42,3.54,3.68,3.86,4.08,4.36],
[2.48,2.51,2.55,2.6,2.64,2.69,2.74,2.8,2.86,2.92,2.98,3.05,3.12,3.2,3.29,3.39,3.51,3.65,3.82,4.03,4.3],
[2.46,2.49,2.53,2.57,2.62,2.67,2.73,2.79,2.85,2.91,2.97,3.04,3.12,3.2,3.29,3.39,3.51,3.65,3.83,4.04,4.32],
[2.47,2.5,2.54,2.59,2.63,2.68,2.74,2.8,2.86,2.92,2.99,3.06,3.14,3.22,3.31,3.41,3.53,3.67,3.85,4.06,4.34],
[2.46,2.5,2.53,2.58,2.62,2.67,2.73,2.79,2.85,2.91,2.98,3.05,3.12,3.2,3.29,3.39,3.51,3.65,3.82,4.03,4.3],
[2.48,2.52,2.56,2.6,2.65,2.7,2.76,2.82,2.88,2.94,3.01,3.08,3.16,3.24,3.33,3.43,3.55,3.69,3.87,4.08,4.36],
[2.47,2.5,2.54,2.58,2.63,2.68,2.74,2.8,2.86,2.92,2.99,3.06,3.13,3.21,3.3,3.4,3.52,3.66,3.84,4.05,4.33]
];
var liverBlocks = [[0,7]];

var groupNames = ['Controls','LPPARDKO','LACC1KD','adPPAR\u03b4'];
var groupColors = ['#ffffff','#8000ff','#0a84ff','#ff0000'];
var yTicks = [0,8,1];

var FONT = 'Liberation Sans, Arial, sans-serif';
var PLOT_H = 395;
var chart = echarts.init(document.getElementById('main'));

function boxRows(low,q1,med,q3,high){
  return low.map(function(v,i){ return [i, low[i], q1[i], med[i], q3[i], high[i]]; });
}
// draws each box: whiskers with short caps, filled box, median line
function boxRenderer(groups, boxW){
  return function(params, api){
    var i = api.value(0);
    var pLow = api.coord([i, api.value(1)]);
    var x = pLow[0];
    var yLow = pLow[1];
    var yQ1 = api.coord([i, api.value(2)])[1];
    var yMed = api.coord([i, api.value(3)])[1];
    var yQ3 = api.coord([i, api.value(4)])[1];
    var yHigh = api.coord([i, api.value(5)])[1];
    var ls = {stroke:'#000', lineWidth:1.5};
    var h = boxW/2;
    return {type:'group', children:[
      {type:'line', shape:{x1:x, y1:yLow, x2:x, y2:yQ1}, style:ls},
      {type:'line', shape:{x1:x, y1:yQ3, x2:x, y2:yHigh}, style:ls},
      {type:'line', shape:{x1:x-2, y1:yLow, x2:x+2, y2:yLow}, style:ls},
      {type:'line', shape:{x1:x-2, y1:yHigh, x2:x+2, y2:yHigh}, style:ls},
      {type:'rect', shape:{x:x-h, y:yQ3, width:boxW, height:yQ1-yQ3},
       style:{fill:groupColors[groups[params.dataIndex]], stroke:'#000', lineWidth:1.5}},
      {type:'line', shape:{x1:x-h, y1:yMed, x2:x+h, y2:yMed}, style:ls}
    ]};
  };
}
// beeswarm-like spread so that crowded outliers sit side by side
function swarm(lists, extra){
  var pxPerUnit = PLOT_H / (yTicks[1] - yTicks[0]);
  var offsets = [0, -1.9, 1.9];
  var pts = [];
  lists.forEach(function(col, i){
    var vals = col.concat(extra[i]).sort(function(a,b){ return a-b; });
    var placed = [];
    vals.forEach(function(v){
      var py = v * pxPerUnit, best = 0, bestHits = 1e9;
      for (var k = 0; k < offsets.length; k++){
        var hits = 0;
        placed.forEach(function(p){
          var dx = p.dx - offsets[k], dy = p.py - py;
          if (dx*dx + dy*dy < 3.4*3.4) hits++;
        });
        if (hits < bestHits){ bestHits = hits; best = offsets[k]; }
        if (hits === 0) break;
      }
      placed.push({py:py, dx:best});
      pts.push({value:[i, v], symbolOffset:[best, 0]});
    });
  });
  return pts;
}
function valueAxis(grid){
  return {
    type:'value', gridIndex:grid, min:yTicks[0], max:yTicks[1], interval:yTicks[2],
    axisLine:{show:true, lineStyle:{color:'#000', width:2}},
    axisTick:{show:true, length:4, lineStyle:{color:'#000', width:1.5}},
    minorTick:{show:true, splitNumber:4, length:2, lineStyle:{color:'#000', width:1}},
    splitLine:{show:false},
    axisLabel:{color:'#000', fontWeight:'bold', fontSize:13, fontFamily:FONT, margin:6,
      formatter:function(v){ return v === 0 ? '' : v; }}
  };
}
function catAxis(grid,n,name){
  var cats = [];
  for (var i = 0; i < n; i++) cats.push(String(i+1));
  return {
    type:'category', gridIndex:grid, data:cats, boundaryGap:true,
    axisLine:{show:true, onZero:false, lineStyle:{color:'#000', width:2}},
    axisTick:{show:false}, axisLabel:{show:false}, splitLine:{show:false},
    name:name, nameLocation:'middle', nameGap:16,
    nameTextStyle:{color:'#000', fontWeight:'bold', fontSize:13, fontFamily:FONT}
  };
}
function blockRender(params, api){
  var s = api.coord([api.value(0), 0]);
  var e = api.coord([api.value(1), 0]);
  var bw = api.size([1,0])[0];
  var first = params.dataIndex === 0 && params.seriesName === 'serumBlocks';
  var x0 = s[0] - bw/2 + (params.dataIndex > 0 ? 1 : 0);
  var x1 = e[0] + bw/2;
  return {
    type:'rect',
    shape:{x:x0, y:s[1]+2, width:x1-x0, height:8},
    style:{fill: first ? '#fff' : '#000', stroke: first ? '#000' : null, lineWidth:1.5}
  };
}
var subName = function(n){ return '{n|Log}{s|10}{n|(Replicate ' + n + ')}'; };
var richName = {
  n:{fontWeight:'bold', fontSize:13, fontFamily:FONT, color:'#000'},
  s:{fontWeight:'bold', fontSize:9, fontFamily:FONT, color:'#000', verticalAlign:'bottom', lineHeight:18}
};
var dotStyle = {color:'#000', opacity:1};

var option = {
  animation:false,
  backgroundColor:'#fff',
  grid:[
    {left:39, top:59, width:298, height:199},
    {left:412, top:35, width:497, height:PLOT_H},
    {left:953, top:35, width:96, height:PLOT_H}
  ],
  xAxis:[
    {type:'value', gridIndex:0, min:4, max:8, interval:2,
     axisLine:{show:true, onZero:false, lineStyle:{color:'#000', width:2}},
     axisTick:{show:true, length:4, lineStyle:{color:'#000', width:1.5}},
     splitLine:{show:false},
     axisLabel:{color:'#000', fontWeight:'bold', fontSize:13, fontFamily:FONT, margin:5},
     name:subName(1), nameLocation:'middle', nameGap:19, nameTextStyle:{rich:richName}},
    catAxis(1, serumLow.length, 'Serum Samples'),
    catAxis(2, liverLow.length, 'Liver Lysates')
  ],
  yAxis:[
    {type:'value', gridIndex:0, min:4, max:8, interval:2,
     axisLine:{show:true, onZero:false, lineStyle:{color:'#000', width:2}},
     axisTick:{show:true, length:4, lineStyle:{color:'#000', width:1.5}},
     splitLine:{show:false},
     axisLabel:{color:'#000', fontWeight:'bold', fontSize:13, fontFamily:FONT, margin:6},
     name:subName(2), nameLocation:'middle', nameGap:7, nameTextStyle:{rich:richName}},
    valueAxis(1),
    valueAxis(2)
  ],
  legend:{
    orient:'vertical', left:838, top:4, padding:0, itemGap:1.5,
    itemWidth:11, itemHeight:11, icon:'rect', selectedMode:false,
    textStyle:{color:'#000', fontWeight:'bold', fontSize:11, fontFamily:FONT, padding:[0,0,0,-2]},
    data:groupNames.map(function(n,i){
      return {name:n, itemStyle:{color:groupColors[i], borderColor:'#333', borderWidth:1}};
    })
  },
  graphic:[
    {type:'text', left:1, top:-1, style:{text:'a', fontSize:15, fontWeight:'bold', fontFamily:FONT, fill:'#000'}},
    {type:'text', left:371, top:-1, style:{text:'b', fontSize:15, fontWeight:'bold', fontFamily:FONT, fill:'#000'}},
    {type:'text', x:387, y:213, rotation:Math.PI/2,
     style:{text:'Normalized Intensity', fontSize:17, fontFamily:FONT, fill:'#000', align:'center', verticalAlign:'middle'}},
    {type:'text', x:928, y:213, rotation:Math.PI/2,
     style:{text:'Normalized Intensity', fontSize:17, fontFamily:FONT, fill:'#000', align:'center', verticalAlign:'middle'}}
  ],
  series:[
    {type:'scatter', xAxisIndex:0, yAxisIndex:0, data:replicatePoints, symbolSize:4.6,
     itemStyle:dotStyle, silent:true},
    {type:'custom', name:'serumBoxes', xAxisIndex:1, yAxisIndex:1,
     data:boxRows(serumLow,serumQ1,serumMed,serumQ3,serumHigh),
     encode:{x:0, y:[1,2,3,4,5]}, renderItem:boxRenderer(serumGroup, 8), silent:true, z:3},
    {type:'scatter', xAxisIndex:1, yAxisIndex:1, data:swarm(serumOutliers, serumDense), symbolSize:4.3,
     itemStyle:dotStyle, silent:true},
    {type:'custom', name:'serumBlocks', xAxisIndex:1, yAxisIndex:1, data:serumBlocks,
     encode:{x:[0,1]}, renderItem:blockRender, silent:true, clip:false},
    {type:'custom', name:'liverBoxes', xAxisIndex:2, yAxisIndex:2,
     data:boxRows(liverLow,liverQ1,liverMed,liverQ3,liverHigh),
     encode:{x:0, y:[1,2,3,4,5]}, renderItem:boxRenderer(liverGroup, 9), silent:true, z:3},
    {type:'scatter', xAxisIndex:2, yAxisIndex:2, data:swarm(liverOutliers, liverDense), symbolSize:4.3,
     itemStyle:dotStyle, silent:true},
    {type:'custom', name:'liverBlocks', xAxisIndex:2, yAxisIndex:2, data:liverBlocks,
     encode:{x:[0,1]}, renderItem:blockRender, silent:true, clip:false}
  ].concat(groupNames.map(function(n,i){
    return {type:'scatter', name:n, xAxisIndex:1, yAxisIndex:1, data:[], itemStyle:{color:groupColors[i]}};
  }))
};
chart.setOption(option);
</script>
</body>
</html>
